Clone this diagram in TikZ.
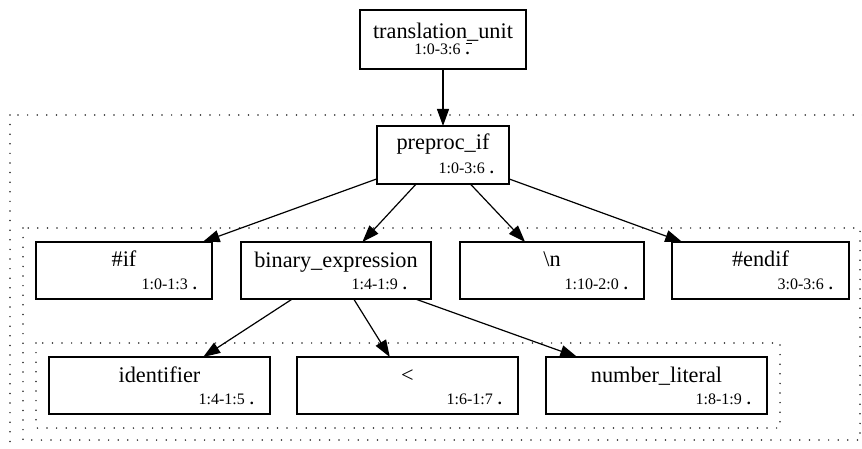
\documentclass[tikz,border=0pt]{standalone}
\usepackage{fontspec}
\setmainfont{Liberation Serif}
\usetikzlibrary{arrows.meta,calc}

\newcommand\bigtxt{\fontsize{22.3}{26}\selectfont}
\newcommand\smalltxt{\fontsize{16}{19}\selectfont}

\tikzset{
  treebox/.style={draw=black, line width=1.2pt, inner sep=0pt, outer sep=0pt,
    minimum height=57pt},
  nodename/.style={anchor=base, inner sep=0pt, font=\bigtxt},
  nodeloc/.style={anchor=base east, inner sep=0pt, font=\smalltxt},
  edge/.style={draw=black, line width=1.2pt, -{Triangle[length=17pt, width=12pt]}},
  cluster/.style={draw=black!85, line width=1.7pt, line cap=round,
    dash pattern=on 0pt off 9.6pt},
}

\begin{document}
\begin{tikzpicture}[x=1pt, y=-1pt]
\useasboundingbox (0,0) rectangle (862,449);
\clip (0,0) rectangle (862,449);

% nested subtree groups
\draw[cluster] (10,115) rectangle (874,455);
\draw[cluster] (23,228) rectangle (860,440);
\draw[cluster] (36,343) rectangle (780,428);

% syntax tree nodes
\node[treebox, minimum width=166pt, minimum height=59pt] (tu) at (443,39.5) {};
\node[treebox, minimum width=132pt, minimum height=58pt] (pif) at (443,155) {};
\node[treebox, minimum width=176pt] (hif) at (124,270.5) {};
\node[treebox, minimum width=190pt] (bin) at (336,270.5) {};
\node[treebox, minimum width=184pt] (nl) at (552,270.5) {};
\node[treebox, minimum width=177pt] (endif) at (760.5,270.5) {};
\node[treebox, minimum width=221pt] (id) at (159.5,385.5) {};
\node[treebox, minimum width=221pt] (lt) at (407.5,385.5) {};
\node[treebox, minimum width=221pt] (num) at (656.5,385.5) {};

% node kinds
\node[nodename] (tuN) at ($(tu.north)+(0,29)$) {translation\_unit};
\node[nodename] (pifN) at ($(pif.north)+(0,24)$) {preproc\_if};
\node[nodename] (hifN) at ($(hif.north)+(0,24.5)$) {\#if};
\node[nodename] (binN) at ($(bin.north)+(0,25)$) {binary\_expression};
\node[nodename] (nlN) at ($(nl.north)+(0,24.5)$) {\textbackslash n};
\node[nodename] (endifN) at ($(endif.north)+(0,24.5)$) {\#endif};
\node[nodename] (idN) at ($(id.north)+(0,25.5)$) {identifier};
\node[nodename] (ltN) at ($(lt.north)+(0,25.5)$) {<};
\node[nodename] (numN) at ($(num.north)+(0,25.5)$) {number\_literal};

% source ranges
\node[nodeloc, anchor=base] (tuL) at ($(tu.south)+(-1,-14)$)
  {1:0-3:6\hspace{5pt}\rlap{\raisebox{11pt}{\rule{6.5pt}{0.8pt}}}\textbf{.}};
\node[nodeloc] (pifL) at ($(pif.south east)+(-15,-10)$) {1:0-3:6\hspace{5pt}\textbf{.}};
\node[nodeloc] (hifL) at ($(hif.south east)+(-15,-10)$) {1:0-1:3\hspace{5pt}\textbf{.}};
\node[nodeloc] (binL) at ($(bin.south east)+(-24,-10)$) {1:4-1:9\hspace{5pt}\textbf{.}};
\node[nodeloc] (nlL) at ($(nl.south east)+(-16,-10)$) {1:10-2:0\hspace{5pt}\textbf{.}};
\node[nodeloc] (endifL) at ($(endif.south east)+(-16,-10)$) {3:0-3:6\hspace{5pt}\textbf{.}};
\node[nodeloc] (idL) at ($(id.south east)+(-16,-10)$) {1:4-1:5\hspace{5pt}\textbf{.}};
\node[nodeloc] (ltL) at ($(lt.south east)+(-16,-10)$) {1:6-1:7\hspace{5pt}\textbf{.}};
\node[nodeloc] (numL) at ($(num.south east)+(-16,-10)$) {1:8-1:9\hspace{5pt}\textbf{.}};

% parent-child edges
\draw[edge] (tu) -- (pif);
\draw[edge] (pif) -- (hif);
\draw[edge] (pif) -- (bin);
\draw[edge] (pif) -- (nl);
\draw[edge] (pif) -- (endif);
\draw[edge] (bin) -- (id);
\draw[edge] (bin) -- (lt);
\draw[edge] (bin) -- (num);
\end{tikzpicture}
\end{document}
